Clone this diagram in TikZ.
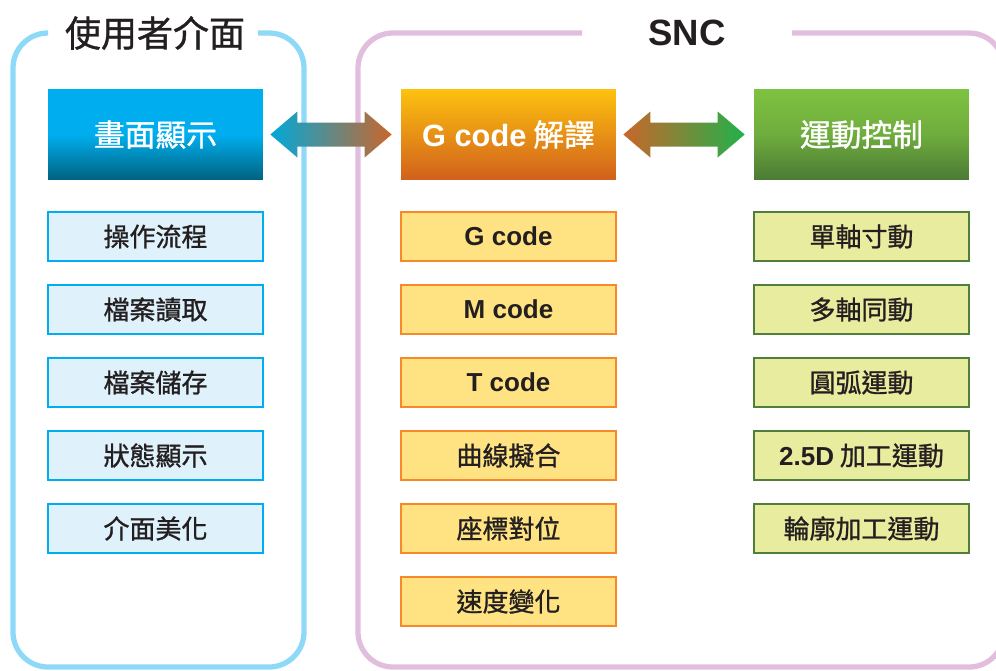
\documentclass[tikz,border=0pt]{standalone}
\usepackage{fontspec}
\setmainfont{Liberation Sans}
\newfontfamily\cjk{Noto Sans CJK TC}[FakeBold=1]
\usetikzlibrary{calc}

\definecolor{ink}{HTML}{231F20}
\definecolor{uiline}{HTML}{8ED8F8}
\definecolor{sncline}{HTML}{E2BEDE}
\definecolor{uiedge}{HTML}{00AEEF}
\definecolor{uifill}{HTML}{DFF1FB}
\definecolor{gcedge}{HTML}{F7892B}
\definecolor{gcfill}{HTML}{FFE383}
\definecolor{mvedge}{HTML}{527E3B}
\definecolor{mvfill}{HTML}{E8EC9E}
\definecolor{bluetop}{HTML}{00AEEF}
\definecolor{bluebot}{HTML}{00627F}
\definecolor{orangetop}{HTML}{FDC20F}
\definecolor{orangebot}{HTML}{D1601C}
\definecolor{greentop}{HTML}{7EC241}
\definecolor{greenbot}{HTML}{4B7A35}
\definecolor{arrcyan}{HTML}{00A9DA}
\definecolor{arrorange}{HTML}{C9662A}
\definecolor{arrgreen}{HTML}{21B14B}

\newcommand\lat[1]{{\rmfamily\bfseries #1}}

% double arrow between two header boxes
\newcommand\bigarrow[4]{%
  \shade[left color=#3,right color=#4]
    ($(#1.east)+(7,0)$) -- ++(27,-23) -- ++(0,11) -- ($(#2.west)+(-36,-12)$)
    -- ++(0,-11) -- ($(#2.west)+(-9,0)$) -- ++(-27,23) -- ++(0,-11)
    -- ($(#1.east)+(34,12)$) -- ++(0,11) -- cycle;}

\tikzset{
  uiframe/.style={draw=uiline,line width=3pt,rounded corners=0.7cm},
  sncframe/.style={draw=sncline,line width=3pt,rounded corners=0.7cm},
  headbox/.style={minimum width=4.3cm,minimum height=1.82cm,inner sep=0pt,
    text=white,font=\cjk\fontsize{17.5}{20}\selectfont},
  itembox/.style={line width=1.1pt,minimum width=4.3cm,minimum height=0.98cm,
    inner sep=0pt,text=ink,font=\cjk\fontsize{14.8}{16}\selectfont},
  uiitem/.style={itembox,draw=uiedge,fill=uifill},
  gcitem/.style={itembox,draw=gcedge,fill=gcfill},
  mvitem/.style={itembox,draw=mvedge,fill=mvfill},
}

\begin{document}
\begin{tikzpicture}[x=0.02cm,y=-0.02cm]
    \useasboundingbox (0,0) rectangle (996,670);

    % outer frames
    \draw[uiframe]
      (258,33) -- (304,33) -- (304,667) -- (13,667) -- (13,33) -- (48,33);
    \draw[sncframe]
      (792,33) -- (1004,33) -- (1004,667) -- (358,667) -- (358,33) -- (582,33);

    \node[text=ink,font=\cjk\fontsize{20.5}{22}\selectfont] (uititle) at (155,33) {使用者介面};
    \node[text=ink,font=\bfseries\fontsize{20.8}{22}\selectfont] (snctitle) at (687,33) {SNC};

    % headers
    \node[headbox,top color=bluetop,bottom color=bluebot,middle color=bluetop] (disp) at (155.5,134.5) {畫面顯示};
    \node[headbox,top color=orangetop,bottom color=orangebot] (gcode) at (508.5,134.5) {\lat{G code} 解譯};
    \node[headbox,top color=greentop,bottom color=greenbot,middle color=greentop!70!greenbot] (motion) at (861.5,134.5) {運動控制};

    \bigarrow{disp}{gcode}{arrcyan}{arrorange}
    \bigarrow{gcode}{motion}{arrorange}{arrgreen}

    % items
    \foreach \txt [count=\i] in {操作流程,檔案讀取,檔案儲存,狀態顯示,介面美化}
      \node[uiitem] (ui\i) at (155.5,{236.5+73*(\i-1)}) {\txt};
    \foreach \txt [count=\i] in {\lat{G code},\lat{M code},\lat{T code},曲線擬合,座標對位,速度變化}
      \node[gcitem] (gc\i) at (508.5,{236.5+73*(\i-1)}) {\txt};
    \foreach \txt [count=\i] in {單軸寸動,多軸同動,圓弧運動,\lat{2.5D} 加工運動,輪廓加工運動}
      \node[mvitem] (mv\i) at (861.5,{236.5+73*(\i-1)}) {\txt};
\end{tikzpicture}
\end{document}
